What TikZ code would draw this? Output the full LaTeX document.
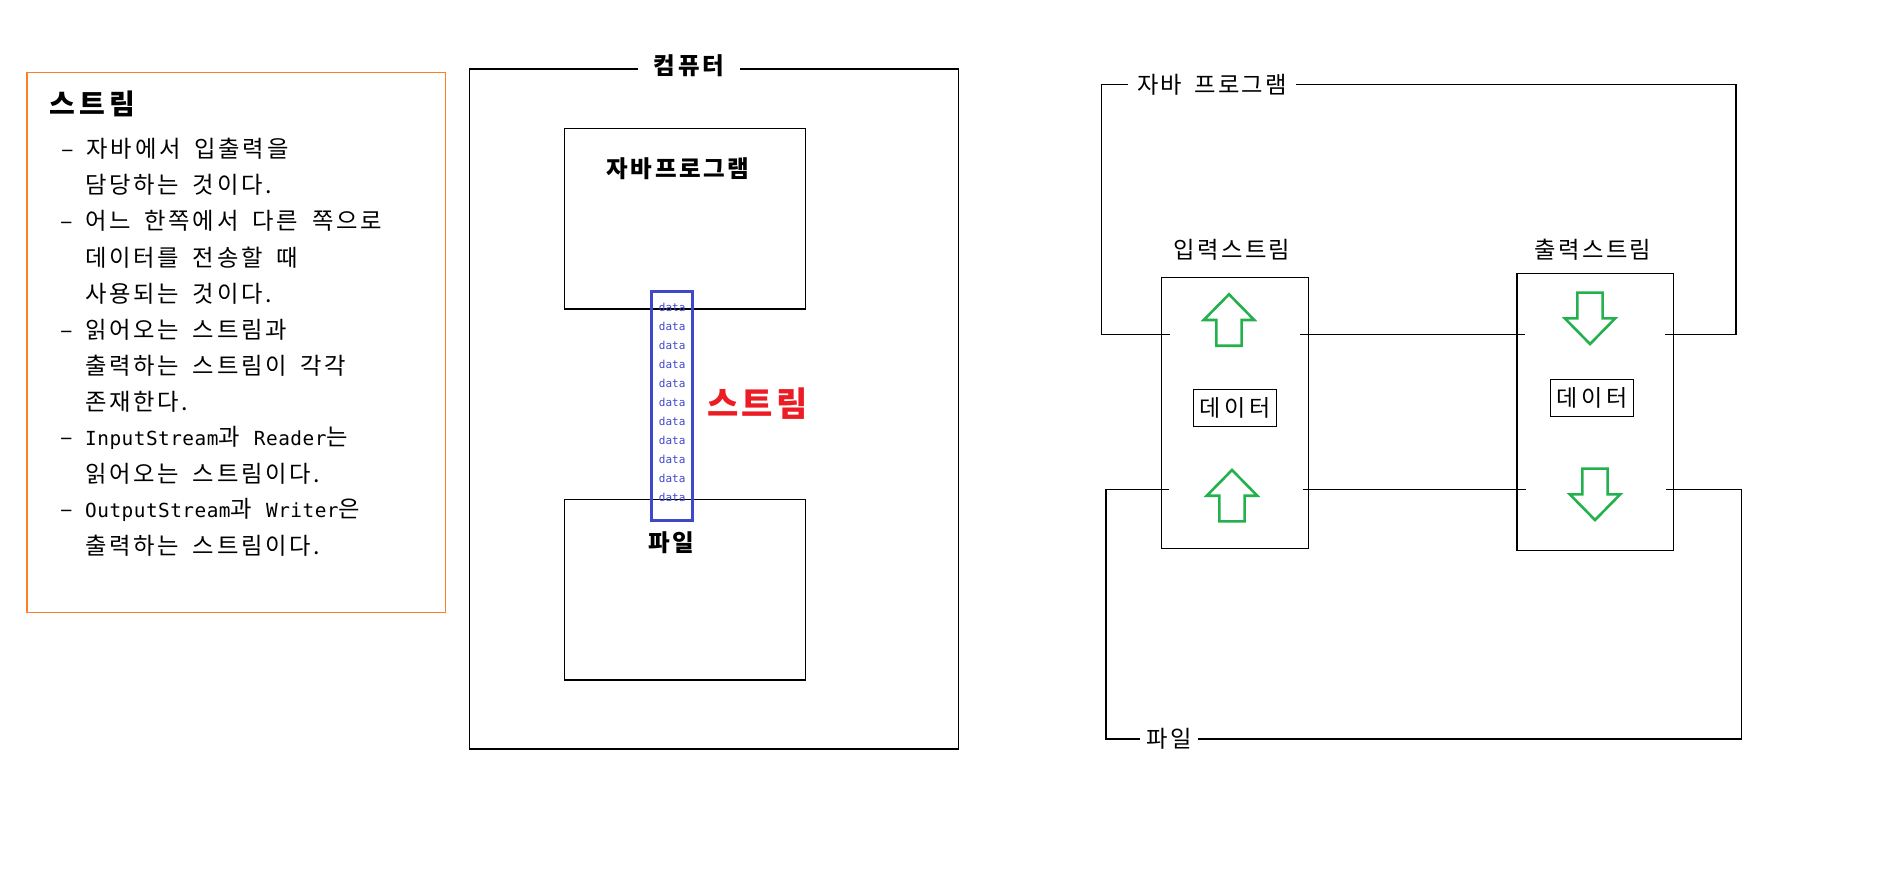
\documentclass[tikz,border=0pt]{standalone}
\usepackage{fontspec}
\newfontfamily\kr{Noto Sans CJK KR}
\newfontfamily\mono{DejaVu Sans Mono}
\definecolor{pborange}{RGB}{255,127,39}
\definecolor{pbred}{RGB}{237,28,36}
\definecolor{pbgreen}{RGB}{34,177,76}
\definecolor{pbblue}{RGB}{63,72,204}
\newcommand\lat[1]{{\mono\fontsize{19.4}{19.4}\selectfont\addfontfeature{LetterSpace=2.5}#1}}
\newcommand\dsh{\makebox[25pt][l]{–}}
\newcommand\lsp[1]{\addfontfeature{LetterSpace=#1}}
\begin{document}
\begin{tikzpicture}[x=1pt,y=-1pt,
  frame/.style={draw=black,line width=1.2pt},
  body/.style={inner sep=0pt,anchor=west,font={\kr\fontsize{23.3}{23.3}\selectfont\lsp{11.5}\spaceskip=14pt\relax}},
  reg/.style={inner sep=0pt,font={\kr\fontsize{23.3}{23.3}\selectfont\lsp{10}\spaceskip=12pt\relax}},
  boldlbl/.style={inner sep=0pt,font={\kr\bfseries\fontsize{23.5}{23.5}\selectfont\lsp{11}}},
  datatxt/.style={inner sep=0pt,text=pbblue,font={\mono\fontsize{11}{11}\selectfont}},
  gaplbl/.style={fill=white,inner ysep=2pt},
  databox/.style={draw=black,line width=1.2pt,minimum width=83pt,minimum height=37.4pt,inner sep=0pt,font={\kr\fontsize{23}{23}\selectfont\lsp{15}}},
  arrowline/.style={draw=pbgreen,line width=2.6pt,line join=miter},
  upgreen/.pic={\draw[arrowline] (0,0) -- (25.25,25.7) -- (12.6,25.7) -- (12.6,51.4) -- (-12.6,51.4) -- (-12.6,25.7) -- (-25.25,25.7) -- cycle;},
  downgreen/.pic={\draw[arrowline] (0,0) -- (25.25,-25.7) -- (12.6,-25.7) -- (12.6,-51.4) -- (-12.6,-51.4) -- (-12.6,-25.7) -- (-25.25,-25.7) -- cycle;}
]
\fill[white] (0,0) rectangle (1898,868);
\useasboundingbox (0,0) rectangle (1898,868);

% ---------- left note box ----------
\draw[draw=pborange,line width=1.2pt] (27,72.6) rectangle (445.6,612.8);
\node[inner sep=0pt,anchor=west,font={\kr\bfseries\fontsize{28}{28}\selectfont\lsp{15}}] (title) at (49.3,103.8) {스트림};
\node[body] (l1) at (61.7,149) {\dsh 자바에서 입출력을};
\node[body] (l2) at (85,185.1) {담당하는 것이다.};
\node[body] (l3) at (60,221.2) {\dsh 어느 한쪽에서 다른 쪽으로};
\node[body] (l4) at (85,257.3) {데이터를 전송할 때};
\node[body] (l5) at (85,293.4) {사용되는 것이다.};
\node[body] (l6) at (60,329.5) {\dsh 읽어오는 스트림과};
\node[body] (l7) at (85,365.6) {출력하는 스트림이 각각};
\node[body] (l8) at (85,401.7) {존재한다.};
\node[body] (l9) at (60,437.8) {\dsh \lat{InputStream}과 \lat{Reader}는};
\node[body] (l10) at (85,473.9) {읽어오는 스트림이다.};
\node[body] (l11) at (60,510) {\dsh \lat{OutputStream}과 \lat{Writer}은};
\node[body] (l12) at (85,546.1) {출력하는 스트림이다.};

% ---------- middle: computer ----------
\draw[frame] (469.5,69) rectangle (958.5,749);
\node[boldlbl,gaplbl,inner xsep=16pt] (comp) at (689,66) {컴퓨터};
\draw[frame] (564.3,128.6) rectangle (805.7,309);
\node[boldlbl] (jprog) at (678,168.5) {자바프로그램};
\draw[frame] (564.3,499.6) rectangle (805.7,680);
\node[boldlbl] (file) at (671,542.5) {파일};
\foreach \i in {0,...,10} {
  \node[datatxt] (d\i) at (672.2,{307.6+18.97*\i}) {data};
}
\draw[draw=pbblue,line width=3pt] (651.7,291) rectangle (692.7,520);
\node[inner sep=0pt,text=pbred,font={\kr\bfseries\fontsize{34}{34}\selectfont\lsp{10}}] (strm) at (757.5,404) {스트림};

% ---------- right: program / streams / file ----------
\draw[frame] (1161.5,277.3) rectangle (1308.4,548.3);
\draw[frame] (1517,273.3) rectangle (1673.3,550.3);
\node[reg] (instr) at (1232,250) {입력스트림};
\node[reg] (outstr) at (1593,250) {출력스트림};

% program frame
\draw[frame] (1170,334.3) -- (1101.4,334.3) -- (1101.4,84.3) -- (1736,84.3) -- (1736,334.3) -- (1665,334.3);
\draw[frame] (1300.4,334.3) -- (1524.8,334.3);
\node[reg,gaplbl,inner xsep=9pt] (prog) at (1212,85) {자바 프로그램};

% file frame
\draw[frame] (1169,489.3) -- (1106,489.3) -- (1106,739) -- (1741.5,739) -- (1741.5,489.3) -- (1665.7,489.3);
\draw[frame] (1302.5,489.3) -- (1525.6,489.3);
\node[reg,gaplbl,inner xsep=6pt] (rfile) at (1169,739) {파일};

% data boxes
\node[databox] (din) at (1235,408) {데이터};
\node[databox] (dout) at (1592,398) {데이터};

% arrows
\pic (ua1) at (1229,294.3) {upgreen};
\pic (ua2) at (1232,470) {upgreen};
\pic (da1) at (1590,344) {downgreen};
\pic (da2) at (1595,520) {downgreen};
\end{tikzpicture}
\end{document}
